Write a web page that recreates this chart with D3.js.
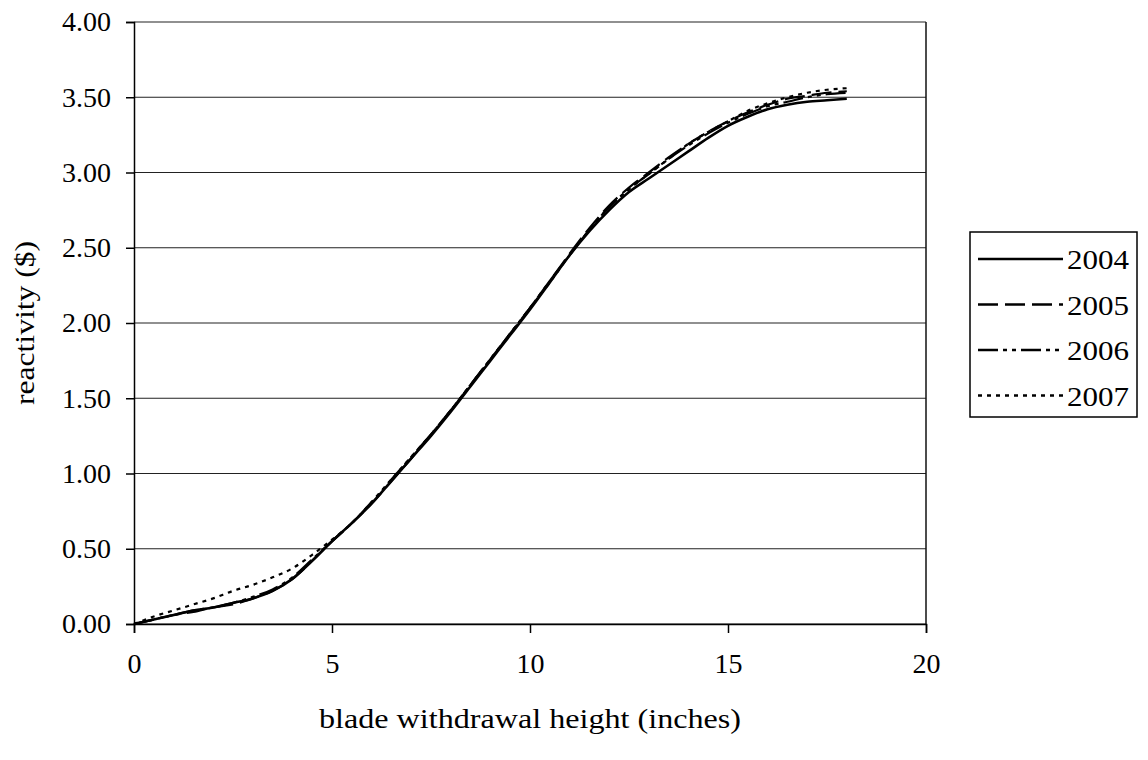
<!DOCTYPE html>
<html>
<head>
<meta charset="utf-8">
<script src="https://cdn.jsdelivr.net/npm/d3@7"></script>
<style>
  body { margin: 0; background: #fff; }
</style>
</head>
<body>
<div id="chart"></div>
<script>
// blade withdrawal height (inches)
const heights = [0, 0.5, 1, 1.5, 2, 2.5, 3, 3.5, 4, 4.5, 5, 5.5, 6, 6.5, 7, 7.5, 8, 8.5, 9,
                 9.5, 10, 10.5, 11, 11.5, 12, 12.5, 13, 13.5, 14, 14.5, 15, 15.5, 16, 16.5, 17, 17.5, 18];

// reactivity ($) per year
const r2004 = [0, 0.03, 0.06, 0.09, 0.11, 0.14, 0.17, 0.22, 0.30, 0.42, 0.55, 0.67, 0.80, 0.95, 1.10, 1.25, 1.41, 1.58, 1.75,
               1.92, 2.09, 2.27, 2.45, 2.61, 2.75, 2.87, 2.96, 3.05, 3.14, 3.23, 3.31, 3.37, 3.42, 3.45, 3.47, 3.48, 3.49];
const r2005 = [0, 0.03, 0.06, 0.08, 0.11, 0.13, 0.17, 0.22, 0.30, 0.42, 0.55, 0.67, 0.80, 0.95, 1.10, 1.26, 1.42, 1.59, 1.76,
               1.93, 2.10, 2.28, 2.46, 2.63, 2.78, 2.90, 3.00, 3.10, 3.19, 3.27, 3.34, 3.40, 3.45, 3.49, 3.51, 3.53, 3.54];
const r2006 = [0, 0.03, 0.06, 0.09, 0.11, 0.14, 0.18, 0.23, 0.31, 0.43, 0.55, 0.67, 0.81, 0.96, 1.11, 1.26, 1.42, 1.59, 1.76,
               1.93, 2.10, 2.28, 2.45, 2.62, 2.77, 2.89, 2.99, 3.09, 3.18, 3.26, 3.33, 3.39, 3.44, 3.47, 3.50, 3.52, 3.53];
const r2007 = [0, 0.05, 0.09, 0.13, 0.17, 0.22, 0.26, 0.31, 0.37, 0.46, 0.56, 0.67, 0.81, 0.96, 1.11, 1.26, 1.42, 1.59, 1.76,
               1.93, 2.10, 2.27, 2.45, 2.62, 2.77, 2.89, 2.99, 3.09, 3.19, 3.27, 3.34, 3.41, 3.46, 3.50, 3.53, 3.55, 3.56];

const years = ["2004", "2005", "2006", "2007"];
const dashes = [null, "20,7", "20,5,4,5,4,5", "4,5"];
const seriesValues = [r2004, r2005, r2006, r2007];

const xTicks = [0, 5, 10, 15, 20];
const yTicks = [0, 0.5, 1, 1.5, 2, 2.5, 3, 3.5, 4];

const fontFamily = "'Liberation Serif', 'Times New Roman', Times, 'DejaVu Serif', serif";
const fontSize = "28px";

const width = 1148, height = 760;
const margin = { top: 22, right: 222, bottom: 136, left: 134 };
const plotW = width - margin.left - margin.right,
      plotH = height - margin.top - margin.bottom;

const svg = d3.select("#chart").append("svg")
    .attr("width", width)
    .attr("height", height);

const g = svg.append("g")
    .attr("transform", "translate(" + margin.left + "," + margin.top + ")");

const x = d3.scaleLinear().domain([0, 20]).range([0, plotW]);
const y = d3.scaleLinear().domain([0, 4]).range([plotH, 0]);

// gridlines
g.selectAll(".grid")
    .data(yTicks)
    .enter().append("line")
    .attr("x1", 0).attr("x2", plotW)
    .attr("y1", d => y(d)).attr("y2", d => y(d))
    .attr("stroke", "#222").attr("stroke-width", 1.2);

// right border
g.append("line")
    .attr("x1", plotW).attr("x2", plotW)
    .attr("y1", 0).attr("y2", plotH)
    .attr("stroke", "#111").attr("stroke-width", 1.5);

// axes
const xAxis = g.append("g")
    .attr("transform", "translate(0," + plotH + ")")
    .call(d3.axisBottom(x).tickValues(xTicks).tickSize(9).tickPadding(20).tickFormat(d3.format("d")));
const yAxis = g.append("g")
    .call(d3.axisLeft(y).tickValues(yTicks).tickSize(8).tickPadding(15).tickFormat(d3.format(".2f")));

[xAxis, yAxis].forEach(a => {
    a.attr("font-family", null).attr("font-size", null);
    a.select(".domain").attr("stroke", "#000").attr("stroke-width", 1.5);
    a.selectAll(".tick line").attr("stroke", "#000").attr("stroke-width", 1.5);
    a.selectAll("text")
        .style("font-family", fontFamily)
        .style("font-size", fontSize)
        .attr("fill", "#000");
});

// lines
const line = d3.line()
    .x(d => x(d[0]))
    .y(d => y(d[1]))
    .curve(d3.curveMonotoneX);

seriesValues.forEach((vals, i) => {
    g.append("path")
        .datum(heights.map((h, j) => [h, vals[j]]))
        .attr("fill", "none")
        .attr("stroke", "#000")
        .attr("stroke-width", i === 0 ? 2.6 : 2.2)
        .attr("stroke-dasharray", dashes[i])
        .attr("d", line);
});

// axis titles
svg.append("text")
    .attr("x", margin.left + plotW / 2)
    .attr("y", 728)
    .attr("text-anchor", "middle")
    .attr("textLength", 422)
    .attr("lengthAdjust", "spacingAndGlyphs")
    .style("font-family", fontFamily)
    .style("font-size", fontSize)
    .text("blade withdrawal height (inches)");

svg.append("text")
    .attr("transform", "translate(34," + (margin.top + plotH / 2) + ") rotate(-90)")
    .attr("text-anchor", "middle")
    .attr("textLength", 164)
    .attr("lengthAdjust", "spacingAndGlyphs")
    .style("font-family", fontFamily)
    .style("font-size", fontSize)
    .text("reactivity ($)");

// legend
const legend = svg.append("g").attr("transform", "translate(970,232)");
legend.append("rect")
    .attr("width", 167).attr("height", 185)
    .attr("fill", "#fff").attr("stroke", "#000").attr("stroke-width", 1.5);

years.forEach((yr, i) => {
    const ly = 27 + i * 45.5;
    legend.append("line")
        .attr("x1", 8).attr("x2", 93)
        .attr("y1", ly).attr("y2", ly)
        .attr("stroke", "#000").attr("stroke-width", 2.4)
        .attr("stroke-dasharray", dashes[i]);
    legend.append("text")
        .attr("x", 97).attr("y", ly + 10)
        .attr("textLength", 62)
        .attr("lengthAdjust", "spacingAndGlyphs")
        .style("font-family", fontFamily)
        .style("font-size", fontSize)
        .text(yr);
});
</script>
</body>
</html>
